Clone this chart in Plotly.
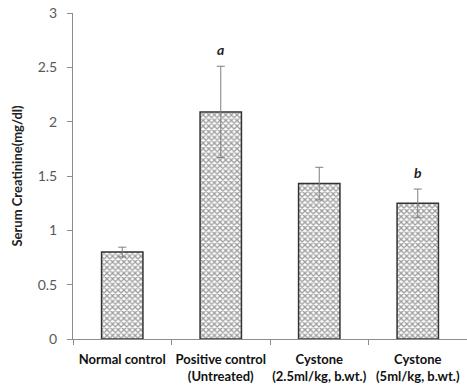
import plotly.graph_objects as go

categories = ["Normal control", "Positive control<br>(Untreated)",
              "Cystone<br>(2.5ml/kg, b.wt.)", "Cystone<br>(5ml/kg, b.wt.)"]
values = [0.80, 2.09, 1.43, 1.25]
errors = [0.045, 0.42, 0.15, 0.13]
sig_labels = ["", "a", "", "b"]
y_ticks = [0, 0.5, 1, 1.5, 2, 2.5, 3]

fig = go.Figure()
fig.add_trace(go.Bar(
    x=categories, y=values,
    marker=dict(color="white",
                line=dict(color="#333333", width=1.5),
                pattern=dict(shape="x", fgcolor="#3a3a3a", bgcolor="white",
                             size=4, solidity=0.55)),
    error_y=dict(type="data", array=errors, visible=True,
                 color="#7f7f7f", thickness=1, width=4),
    width=0.42,
))

for c, v, e, s in zip(categories, values, errors, sig_labels):
    if s:
        fig.add_annotation(x=c, y=v + e, text=f"<b><i>{s}</i></b>",
                           showarrow=False, yanchor="bottom", yshift=6,
                           font=dict(size=14, color="#222222", family="Lato"))

fig.update_layout(
    width=467, height=388,
    margin=dict(l=73, r=0, t=13, b=49),
    paper_bgcolor="white", plot_bgcolor="white",
    showlegend=False,
    font=dict(family="Lato", color="#595959"),
    bargap=0.58,
)
fig.update_yaxes(
    range=[0, 3], tickvals=y_ticks, ticktext=[f"{t:g}" for t in y_ticks],
    showgrid=False, zeroline=False, automargin=False,
    showline=True, linecolor="#8c8c8c", linewidth=1,
    ticks="outside", ticklen=5, tickcolor="#8c8c8c",
    ticklabelstandoff=7,
    tickfont=dict(size=14, color="#595959", family="Lato"),
    title=dict(text="<b>Serum Creatinine(mg/dl)</b>",
               font=dict(size=13, color="#222222", family="Lato"), standoff=12),
)
fig.update_xaxes(
    showgrid=False, showline=True, linecolor="#8c8c8c", linewidth=1,
    ticks="outside", ticklen=5, tickcolor="#8c8c8c", tickson="boundaries",
    ticklabelstandoff=8, tickangle=0, automargin=False,
    tickfont=dict(size=13, color="#111111", family="Lato"),
    tickprefix="<b>", ticksuffix="</b>",
)

fig.write_html("out.html")
